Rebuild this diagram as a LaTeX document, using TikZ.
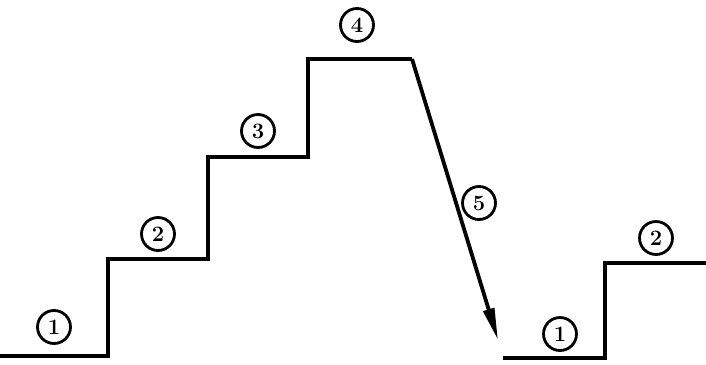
\documentclass[tikz,border=0pt]{standalone}
\usetikzlibrary{arrows.meta}
\begin{document}
\begin{tikzpicture}[x=1pt,y=-1pt,
  stair/.style={line width=3.8pt,line join=miter,line cap=butt},
  num/.style={circle,draw,line width=2.8pt,minimum size=33pt,inner sep=0pt,font=\fontsize{22}{22}\selectfont\bfseries}]
\useasboundingbox (0,0) rectangle (706,364);
% left staircase
\coordinate (a0) at (0,356);
\coordinate (a1) at (108,356);
\coordinate (a2) at (108,259);
\coordinate (a3) at (208,259);
\coordinate (a4) at (208,157);
\coordinate (a5) at (308,157);
\coordinate (a6) at (308,59);
\coordinate (a7) at (412,59);
\coordinate (tip) at (498,340);
\draw[stair] (a0) -- (a1) -- (a2) -- (a3) -- (a4) -- (a5) -- (a6) -- (a7);
\draw[stair,-{Triangle[length=32pt,width=11pt]}] (a7) -- (tip);
% right staircase
\coordinate (b0) at (503,358);
\coordinate (b1) at (605,358);
\coordinate (b2) at (605,263);
\coordinate (b3) at (706,263);
\draw[stair] (b0) -- (b1) -- (b2) -- (b3);
% labels
\node[num] (n1) at (54,327) {1};
\node[num] (n2) at (158,234) {2};
\node[num] (n3) at (258,131) {3};
\node[num] (n4) at (357,25) {4};
\node[num] (n5) at (479,203) {5};
\node[num] (m1) at (560,334) {1};
\node[num] (m2) at (656,238) {2};
\end{tikzpicture}
\end{document}
